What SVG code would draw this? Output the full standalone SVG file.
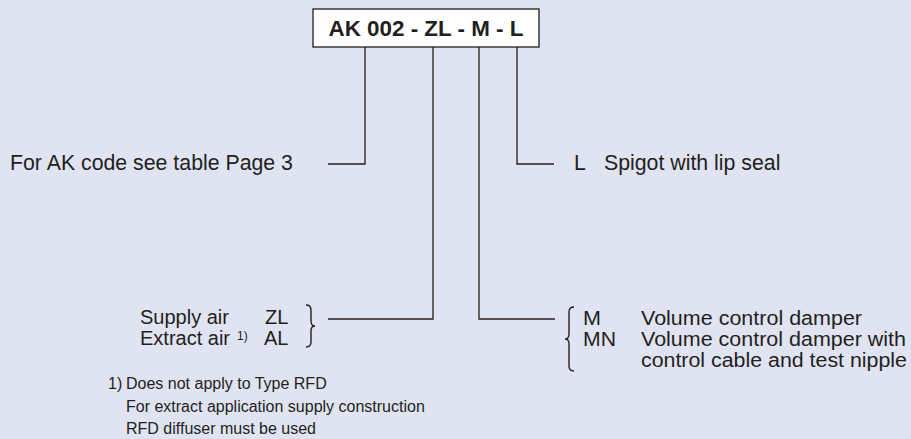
<svg xmlns="http://www.w3.org/2000/svg" width="911" height="439" viewBox="0 0 911 439">
<style>
text{font-family:"Liberation Sans",Arial,sans-serif;fill:#231f20;}
.t{font-size:21.3px;}
.s{font-size:20px;}
.f{font-size:16px;}
.sup{font-size:12px;}
.b{font-size:22.4px;font-weight:bold;}
.ln{fill:none;stroke:#231f20;stroke-width:1.3;}
.br{fill:none;stroke:#231f20;stroke-width:1.4;}
</style>
<rect x="0" y="0" width="911" height="439" fill="#e0e3f2"/>
<g id="code">
<rect x="313" y="9" width="226" height="38" fill="#ffffff" stroke="#3a3a3a" stroke-width="1.5"/>
<text class="b" x="426" y="36" text-anchor="middle">AK 002 - ZL - M - L</text>
</g>
<g id="connectors">
<polyline class="ln" points="365,47 365,164 328,164"/>
<polyline class="ln" points="433,47 433,319 328,319"/>
<polyline class="ln" points="479,47 479,319 555,319"/>
<polyline class="ln" points="517,47 517,164 554,164"/>
</g>
<g id="ak-code">
<text class="t" x="10" y="170">For AK code see table Page 3</text>
</g>
<g id="spigot">
<text class="t" x="574" y="170">L</text>
<text class="t" x="604" y="170">Spigot with lip seal</text>
</g>
<g id="air">
<text class="s" x="140" y="324">Supply air</text>
<text class="s" x="265" y="324">ZL</text>
<text class="s" x="140" y="345">Extract air</text>
<text class="sup" x="237" y="340">1)</text>
<text class="s" x="264" y="345">AL</text>
<path class="br" d="M306,305 Q311,305 311,310 L311,321 Q311,326 315,326 Q311,326 311,331 L311,342 Q311,347 306,347"/>
</g>
<g id="damper">
<path class="br" d="M574,307 Q569,307 569,312 L569,334 Q569,339 565,339 Q569,339 569,344 L569,366 Q569,371 574,371"/>
<text class="s" x="583" y="325" textLength="18" lengthAdjust="spacingAndGlyphs">M</text>
<text class="s" x="641" y="325" textLength="221" lengthAdjust="spacingAndGlyphs">Volume control damper</text>
<text class="s" x="583" y="346" textLength="33" lengthAdjust="spacingAndGlyphs">MN</text>
<text class="s" x="641" y="346" textLength="265" lengthAdjust="spacingAndGlyphs">Volume control damper with</text>
<text class="s" x="641" y="367" textLength="266" lengthAdjust="spacingAndGlyphs">control cable and test nipple</text>
</g>
<g id="footnote">
<text class="f" x="108" y="389">1)</text>
<text class="f" x="126" y="389">Does not apply to Type RFD</text>
<text class="f" x="126" y="412">For extract application supply construction</text>
<text class="f" x="126" y="434">RFD diffuser must be used</text>
</g>
</svg>
